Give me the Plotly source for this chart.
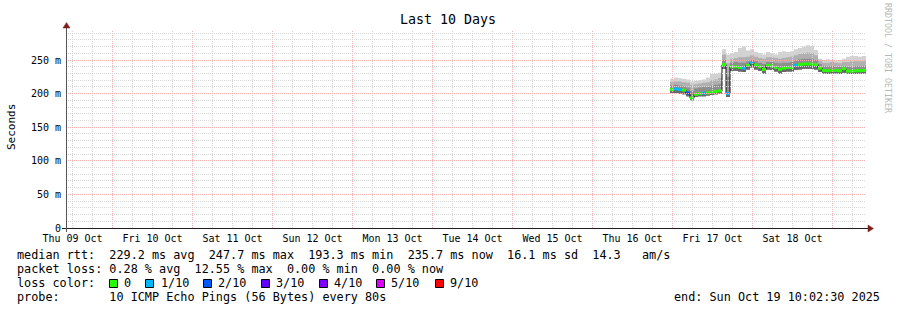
import math
import pandas as pd
import plotly.graph_objects as go

# ---------------- data ----------------
chart_start = "2025-10-09 10:02:30"
chart_end = "2025-10-19 10:02:30"
data_start = "2025-10-16 23:14:30"
step_minutes = 72

median_ms = [206, 207, 206, 205, 201, 193.5, 199, 200, 200.5, 201,
             202, 203, 204, 243, 200, 240, 240, 239, 238, 242,
             246, 242.5, 240, 236, 242, 241, 239, 236, 238, 239,
             239, 242, 243, 244, 244, 244, 243, 238, 234.5, 234,
             234.5, 234.5, 234, 237, 233.5, 233.5, 234, 234, 234.5, 235.7]
smoke_min_ms = [201, 201, 200, 199, 196, 190, 195, 196, 196, 197,
                198, 199, 200, 237, 195, 234, 234, 233, 232, 236,
                239, 236, 234, 230, 236, 235, 233, 230, 232, 233,
                233, 235, 236, 237, 237, 237, 236, 232, 230, 229,
                230, 230, 229, 231, 229, 229, 229, 229, 230, 230]
smoke_dark_ms = [212, 213, 212, 211, 209, 204, 208, 209, 210, 210,
                 212, 213, 214, 250, 225, 246, 247, 246, 246, 248,
                 250, 248, 246, 244, 247, 247, 246, 245, 246, 246,
                 247, 249, 251, 252, 252, 252, 250, 244, 241, 241,
                 241, 240, 240, 241, 240, 240, 241, 241, 241, 241]
smoke_mid_ms = [217, 218, 218, 217, 216, 213, 214, 215, 216, 217,
                220, 221, 223, 258, 245, 252, 253, 254, 254, 255,
                257, 255, 253, 252, 254, 254, 253, 252, 253, 254,
                255, 257, 259, 260, 261, 260, 257, 249, 246, 246,
                247, 246, 245, 247, 247, 248, 248, 248, 248, 248]
smoke_max_ms = [222, 224, 223, 222, 221, 218, 219, 220, 221, 224,
                229, 230, 231, 266, 258, 260, 262, 268, 270, 264,
                266, 262, 260, 258, 262, 260, 258, 262, 263, 262,
                263, 266, 268, 270, 272, 271, 265, 252, 250, 251,
                250, 249, 250, 252, 255, 256, 256, 255, 256, 256]
loss_pings = [0, 1, 1, 0, 2, 0, 0, 0, 1, 0,
              0, 0, 0, 0, 1, 0, 0, 0, 1, 0,
              1, 0, 0, 0, 0, 0, 0, 0, 0, 0,
              0, 1, 0, 0, 0, 0, 0, 0, 0, 0,
              0, 0, 0, 0, 0, 0, 0, 0, 0, 0]

loss_counts = [0, 1, 2, 3, 4, 5, 9]
loss_names = ["0", "1/10", "2/10", "3/10", "4/10", "5/10", "9/10"]
loss_colors = ["#26ff00", "#00b8ff", "#0059ff", "#5e00ff", "#7e00ff", "#dd00ff", "#ff0000"]

x_tick_dates = pd.date_range("2025-10-09 12:00", periods=10, freq="D")
x_tick_labels = ["Thu 09 Oct", "Fri 10 Oct", "Sat 11 Oct", "Sun 12 Oct", "Mon 13 Oct",
                 "Tue 14 Oct", "Wed 15 Oct", "Thu 16 Oct", "Fri 17 Oct", "Sat 18 Oct"]
y_tick_vals = [0, 0.05, 0.10, 0.15, 0.20, 0.25]
y_tick_labels = ["0", "50 m", "100 m", "150 m", "200 m", "250 m"]

title_text = "Last 10 Days"
y_title = "Seconds"
side_text = "RRDTOOL / TOBI OETIKER"
legend_rtt = "median rtt:  229.2 ms avg  247.7 ms max  193.3 ms min  235.7 ms now  16.1 ms sd  14.3   am/s"
legend_loss = "packet loss: 0.28 % avg  12.55 % max  0.00 % min  0.00 % now"
legend_color = "loss color:"
legend_probe = "probe:       10 ICMP Echo Pings (56 Bytes) every 80s"
legend_end = "end: Sun Oct 19 10:02:30 2025"

# ---------------- layout geometry ----------------
W, H = 897, 310
L, T = 66, 30
PW, PH = 800, 198
B = H - T - PH
Y_MAX = PH / 672.0  # seconds at top of plot area
MONO = "DejaVu Sans Mono"
GRID_MINOR = "#d6d6d6"
GRID_MAJOR = "#f2adad"


def px(x):
    return (x - L) / PW


def py(y):
    return (T + PH - y) / PH


times = pd.date_range(data_start, periods=len(median_ms), freq=f"{step_minutes}min")


def sec(arr):
    return [v / 1000.0 for v in arr]


fig = go.Figure()


def band(lower, upper, color):
    fig.add_trace(go.Scatter(x=times, y=sec(lower), mode="lines",
                             line=dict(width=0, shape="hv"), hoverinfo="skip", showlegend=False))
    fig.add_trace(go.Scatter(x=times, y=sec(upper), mode="lines",
                             line=dict(width=0, shape="hv"), fill="tonexty", fillcolor=color,
                             hoverinfo="skip", showlegend=False))


band(smoke_min_ms, smoke_max_ms, "#d2d2d2")
band(smoke_min_ms, smoke_mid_ms, "#b0b0b0")
band(smoke_min_ms, smoke_dark_ms, "#8e8e8e")
band(smoke_min_ms, median_ms, "#686868")

# thin dark median (vertical transitions)
fig.add_trace(go.Scatter(x=times, y=sec(median_ms), mode="lines",
                         line=dict(width=1, color="#111111", shape="hv"),
                         hoverinfo="skip", showlegend=False))

# median coloured by loss
for cnt, col in zip(loss_counts, loss_colors):
    xs, ys = [], []
    for i in range(len(median_ms) - 1):
        if loss_pings[i] == cnt:
            xs += [times[i], times[i + 1], None]
            ys += [median_ms[i] / 1000.0, median_ms[i] / 1000.0, None]
    if xs:
        fig.add_trace(go.Scatter(x=xs, y=ys, mode="lines",
                                 line=dict(width=3, color=col),
                                 hoverinfo="skip", showlegend=False))

shapes = []
t_start = pd.Timestamp(chart_start)
t_end = pd.Timestamp(chart_end)
min_per_px = (t_end - t_start).total_seconds() / 60.0 / PW

# vertical grid every 6 hours (red at midnight)
for t in pd.date_range("2025-10-09 12:00", "2025-10-19 06:00", freq="6h"):
    xpix = L + (t - t_start).total_seconds() / 60.0 / min_per_px
    xc = math.floor(xpix) + 0.5
    major = (t.hour == 0)
    shapes.append(dict(type="line", xref="paper", yref="paper",
                       x0=px(xc), x1=px(xc), y0=0, y1=1, layer="above",
                       line=dict(color=GRID_MAJOR if major else GRID_MINOR, width=1, dash="1px,1px")))
# horizontal grid every 10 m (red every 50 m)
for k in range(1, 30):
    v = k * 0.01
    ypix = T + PH - v / Y_MAX * PH
    yc = math.floor(ypix + 0.01) + 0.5
    major = (k % 5 == 0)
    shapes.append(dict(type="line", xref="paper", yref="paper",
                       x0=0, x1=1, y0=py(yc), y1=py(yc), layer="above",
                       line=dict(color=GRID_MAJOR if major else GRID_MINOR, width=1, dash="1px,1px")))

# axes
AX = "#1f1f1f"
shapes.append(dict(type="line", xref="paper", yref="paper", x0=px(62), x1=px(870),
                   y0=py(228.5), y1=py(228.5), line=dict(color=AX, width=1), layer="above"))
shapes.append(dict(type="line", xref="paper", yref="paper", x0=px(66.5), x1=px(66.5),
                   y0=py(232), y1=py(26), line=dict(color="#555555", width=1), layer="above"))
ARROW = "#801f1f"
shapes.append(dict(type="path", xref="paper", yref="paper",
                   path=f"M {px(868)} {py(225)} L {px(868)} {py(232)} L {px(873.5)} {py(228.5)} Z",
                   fillcolor=ARROW, line=dict(color=ARROW, width=0.5), layer="above"))
shapes.append(dict(type="path", xref="paper", yref="paper",
                   path=f"M {px(63)} {py(28)} L {px(70)} {py(28)} L {px(66.5)} {py(22.5)} Z",
                   fillcolor=ARROW, line=dict(color=ARROW, width=0.5), layer="above"))

annotations = []


def text(x, y, s, size, xanchor="left", color="#000000", angle=0):
    annotations.append(dict(x=px(x), y=py(y), xref="paper", yref="paper", text=s,
                            showarrow=False, xanchor=xanchor, yanchor="middle",
                            textangle=angle, borderpad=0,
                            font=dict(family=MONO, size=size, color=color)))


text(447.5, 19.5, title_text, 13.3, xanchor="center")
text(11, 127, y_title, 11, xanchor="center", angle=-90)
text(888, 58, side_text, 8.3, xanchor="center", color="#b8b8b8", angle=90)

LEG = 11.8
text(16, 254.5, legend_rtt, LEG)
text(16, 268.5, legend_loss, LEG)
text(16, 283, legend_color, LEG)
text(16, 297, legend_probe, LEG)
text(881, 297, legend_end, LEG, xanchor="right")

box_x = [109, 145.7, 203, 261, 319, 376, 435]
label_x = [123, 160, 217, 275, 333, 390, 449]
for bx, lx, name, col in zip(box_x, label_x, loss_names, loss_colors):
    b0 = math.floor(bx) + 0.5
    shapes.append(dict(type="rect", xref="paper", yref="paper",
                       x0=px(b0), x1=px(b0 + 8), y0=py(279.5), y1=py(287.5),
                       fillcolor=col, line=dict(color="#000000", width=1), layer="above"))
    text(lx, 283, name, LEG)

fig.update_layout(
    template="none",
    width=W, height=H, autosize=False,
    margin=dict(l=L, r=W - L - PW, t=T, b=B, pad=0),
    paper_bgcolor="#ffffff", plot_bgcolor="#ffffff",
    showlegend=False,
    shapes=shapes, annotations=annotations,
    xaxis=dict(range=[chart_start, chart_end], showgrid=False, zeroline=False, showline=False,
               tickmode="array", tickvals=x_tick_dates, ticktext=x_tick_labels, ticks="",
               ticklabelstandoff=3, color="#000000",
               tickfont=dict(family=MONO, size=10, color="#000000")),
    yaxis=dict(range=[0, Y_MAX], showgrid=False, zeroline=False, showline=False,
               tickmode="array", tickvals=y_tick_vals, ticktext=y_tick_labels, ticks="",
               ticklabelstandoff=4, color="#000000",
               tickfont=dict(family=MONO, size=10, color="#000000")),
)

fig.write_html("out.html", config={"displayModeBar": False})
